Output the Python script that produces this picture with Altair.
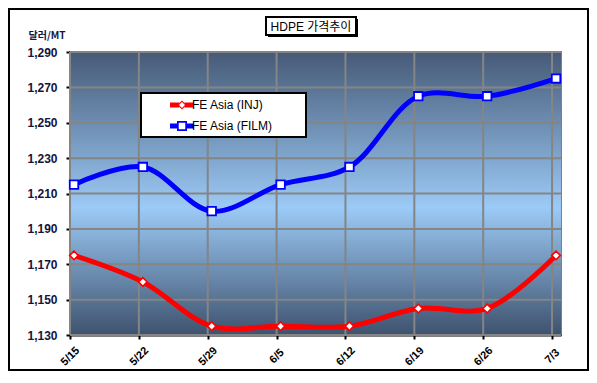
import json
import altair as alt
import pandas as pd

# ---------------- data ----------------
dates = ["5/15", "5/22", "5/29", "6/5", "6/12", "6/19", "6/26", "7/3"]
inj = [1175, 1160, 1135, 1135, 1135, 1145, 1145, 1175]
film = [1215, 1225, 1200, 1215, 1225, 1265, 1265, 1275]
series_names = ["FE Asia (INJ)", "FE Asia (FILM)"]
y_ticks = [1130, 1150, 1170, 1190, 1210, 1230, 1250, 1270, 1290]
title_text = "HDPE 가격추이"
unit_text = "달러/MT"

# ---------------- layout ----------------
W, H = 491, 283
PAD = {"left": 62, "top": 44, "right": 28, "bottom": 36}
FONT = "Liberation Sans, Arial, Noto Sans CJK KR"
colors = ["#ff0000", "#0000ff"]

rows = []
for i, d in enumerate(dates):
    rows.append({"i": i, "date": d, "series": series_names[0], "value": inj[i]})
    rows.append({"i": i, "date": d, "series": series_names[1], "value": film[i]})
df = pd.DataFrame(rows)
cat_df = pd.DataFrame({"i": list(range(len(dates))), "date": dates})
tick_df = pd.DataFrame({"v": y_ticks})
one = pd.DataFrame({"t": [title_text]})

xscale = alt.Scale(domain=[0, 7.13], nice=False, zero=False)
yscale = alt.Scale(domain=[1130, 1290], nice=False, zero=False)

x_axis = alt.Axis(
    values=list(range(len(dates))),
    labelExpr=json.dumps(dates) + "[datum.value]",
    labelAngle=315, labelAlign="center", labelBaseline="middle",
    labelPadding=17, labelFont=FONT, labelFontSize=11, labelFontWeight="bold",
    labelColor="#000000", tickColor="#000000", tickSize=4, tickWidth=2,
    domainColor="#000000", domainWidth=2, grid=False, title=None,
)
y_axis = alt.Axis(
    values=y_ticks, format=",d",
    labelFont=FONT, labelFontSize=12, labelFontWeight="bold",
    labelColor="#14143c", labelPadding=9,
    tickColor="#000000", tickSize=4, tickWidth=2,
    domainColor="#000000", domainWidth=2, grid=False,
    title=unit_text, titleAngle=0, titleX=-42, titleY=-17,
    titleAlign="left", titleBaseline="middle",
    titleFont="Noto Sans CJK KR", titleFontSize=10, titleFontWeight="bold",
    titleColor="#14143c",
)

X = alt.X("i:Q", scale=xscale, axis=x_axis)
Y = alt.Y("value:Q", scale=yscale, axis=y_axis)

# background gradient
bg = alt.Chart(pd.DataFrame({"a": [0]})).mark_rect(
    fill=alt.Gradient(
        gradient="linear", x1=0, y1=0, x2=0, y2=1,
        stops=[
            alt.GradientStop(color="#465a77", offset=0),
            alt.GradientStop(color="#9ccaf6", offset=0.55),
            alt.GradientStop(color="#3e526e", offset=1),
        ],
    )
).encode(x=alt.value(0), x2=alt.value(W), y=alt.value(0), y2=alt.value(H))

vgrid = alt.Chart(cat_df).mark_rule(color="#858585", strokeWidth=2).encode(x=X)
hgrid = alt.Chart(tick_df).mark_rule(color="#858585", strokeWidth=2).encode(
    y=alt.Y("v:Q", scale=yscale, axis=y_axis)
)


def series_layers(name, color, shape, size, sw):
    base = alt.Chart(df).transform_filter(alt.datum.series == name)
    ln = base.mark_line(
        interpolate="catmull-rom", strokeWidth=5, xOffset=4, color=color
    ).encode(x=X, y=Y)
    pt = base.mark_point(
        shape=shape, filled=True, fill="white", stroke=color,
        strokeWidth=sw, size=size, opacity=1, xOffset=4
    ).encode(x=X, y=Y)
    return ln, pt


ln_inj, pt_inj = series_layers(series_names[0], colors[0], "diamond", 75, 1.6)
ln_film, pt_film = series_layers(series_names[1], colors[1], "square", 72, 1.8)

# legend box (white panel with black border)
legend_box = alt.Chart(one).mark_rect(fill="white", stroke="black", strokeWidth=2).encode(
    x=alt.value(71), x2=alt.value(236), y=alt.value(41), y2=alt.value(85)
)

# legend symbols: thick line with hollow marker
inj_sym = ("M-3,-0.6H-0.7V0.6H-3Z M0.7,-0.6H3V0.6H0.7Z "
           "M0,-1.15L1.15,0L0,1.15L-1.15,0Z M0,-0.75L-0.75,0L0,0.75L0.75,0Z")
film_sym = ("M-3,-0.6H-0.95V0.6H-3Z M0.95,-0.6H3V0.6H0.95Z "
            "M-1.25,-1.25H1.25V1.25H-1.25Z M-0.82,-0.82V0.82H0.82V-0.82Z")


def make_legend():
    return alt.Legend(
        title=None, orient="none", legendX=71, legendY=41,
        padding=6, rowPadding=9,
        symbolSize=64, symbolStrokeWidth=0, symbolOpacity=1,
        symbolOffset=29, labelOffset=4,
        labelFont=FONT, labelFontSize=12, labelColor="#000000",
    )


legend_layer = alt.Chart(df).mark_point(
    filled=True, opacity=0, size=1
).encode(
    x=X, y=Y,
    color=alt.Color("series:N", scale=alt.Scale(domain=series_names, range=colors),
                    legend=make_legend()),
    shape=alt.Shape("series:N", scale=alt.Scale(domain=series_names, range=[inj_sym, film_sym]),
                    legend=make_legend()),
)

# title box with shadow
shadow = alt.Chart(one).mark_rect(fill="black").encode(
    x=alt.value(198), x2=alt.value(288), y=alt.value(-33), y2=alt.value(-15)
)
tbox = alt.Chart(one).mark_rect(fill="white", stroke="black", strokeWidth=2).encode(
    x=alt.value(196), x2=alt.value(286), y=alt.value(-35), y2=alt.value(-17)
)
ttext = alt.Chart(one).mark_text(
    font=FONT, fontSize=12, color="black", align="center", baseline="middle"
).encode(x=alt.value(241), y=alt.value(-25.5), text="t:N")

frame = alt.Chart(one).mark_rect(filled=False, stroke="black", strokeWidth=2).encode(
    x=alt.value(-PAD["left"] + 1), x2=alt.value(W + PAD["right"] - 1),
    y=alt.value(-PAD["top"] + 1), y2=alt.value(H + PAD["bottom"] - 1),
)

chart = alt.layer(
    bg, vgrid, hgrid, ln_inj, ln_film, pt_inj, pt_film, legend_box, legend_layer,
    shadow, tbox, ttext, frame
).properties(
    width=W, height=H, padding=PAD, autosize="none", background="white"
).configure_view(stroke="#808080", strokeWidth=2)

chart.save("out.html", embed_options={"renderer": "svg", "actions": False})
